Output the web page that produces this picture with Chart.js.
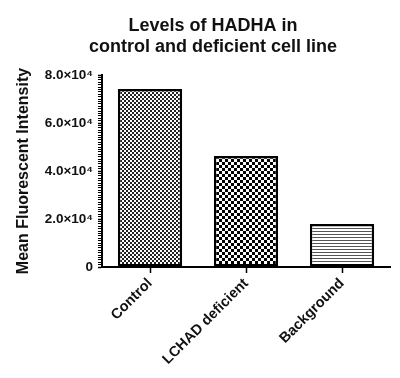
<!DOCTYPE html>
<html>
<head>
<meta charset="utf-8">
<script src="https://cdn.jsdelivr.net/npm/chart.js@4.4.1/dist/chart.umd.min.js"></script>
<style>
  html, body { margin: 0; padding: 0; background: #ffffff; }
  #wrap { position: relative; width: 400px; height: 378px; }
</style>
</head>
<body>
<div id="wrap"><canvas id="hadha_chart" width="400" height="378"></canvas></div>
<script>
var title_lines = ['Levels of HADHA in', 'control and deficient cell line'];
var categories = ['Control', 'LCHAD deficient', 'Background'];
var values = [74200, 46200, 17900];
var y_title = 'Mean Fluorescent Intensity';
var y_major_ticks = [0, 20000, 40000, 60000, 80000];
var y_max = 80000;
var y_minor_step = 1000;

var FONT = "'Liberation Sans', Arial, Helvetica, sans-serif";

// fill patterns for the bars
function checker(cell, dark){
    var c = document.createElement('canvas');
    c.width = cell*2; c.height = cell*2;
    var g = c.getContext('2d');
    g.fillStyle = '#ffffff';
    g.fillRect(0, 0, c.width, c.height);
    g.fillStyle = dark;
    g.fillRect(0, 0, cell, cell);
    g.fillRect(cell, cell, cell, cell);
    return g.createPattern(c, 'repeat');
}
function hlines(period, dark){
    var c = document.createElement('canvas');
    c.width = 4; c.height = period;
    var g = c.getContext('2d');
    g.fillStyle = '#ffffff';
    g.fillRect(0, 0, c.width, c.height);
    g.fillStyle = dark;
    g.fillRect(0, 0, c.width, 1);
    return g.createPattern(c, 'repeat');
}

var fills = [checker(2, '#222222'), checker(3, '#000000'), hlines(3, '#555555')];

// title drawn over the plot, centred like the original figure
var titlePlugin = {
    id: 'figTitle',
    afterDraw: function(chart){
        var ctx = chart.ctx;
        ctx.save();
        ctx.fillStyle = '#111111';
        ctx.font = 'bold 18px ' + FONT;
        ctx.textAlign = 'center';
        ctx.textBaseline = 'middle';
        for (var i = 0; i < title_lines.length; i++){
            ctx.fillText(title_lines[i], 213, 26 + i*21);
        }
        ctx.restore();
    }
};

function yLabel(v){
    if (y_major_ticks.indexOf(v) < 0) return '';
    if (v === 0) return '0';
    return (v/10000).toFixed(1) + '\u00d710\u2074';
}

var chart = new Chart(document.getElementById('hadha_chart').getContext('2d'), {
    type: 'bar',
    data: {
        labels: categories,
        datasets: [{
            data: values,
            backgroundColor: fills,
            borderColor: '#000000',
            borderWidth: 2.5,
            borderSkipped: false,
            barPercentage: 0.67,
            categoryPercentage: 1.0
        }]
    },
    options: {
        responsive: false,
        animation: false,
        layout: { padding: { top: 75, right: 10, left: 0, bottom: 0 } },
        plugins: {
            legend: { display: false },
            tooltip: { enabled: false }
        },
        scales: {
            x: {
                offset: true,
                grid: {
                    offset: false,
                    drawOnChartArea: false,
                    tickLength: 6,
                    tickColor: '#000000',
                    tickWidth: 1.5
                },
                border: { color: '#000000', width: 2 },
                ticks: {
                    color: '#111111',
                    minRotation: 45,
                    maxRotation: 45,
                    padding: 2,
                    font: { family: FONT, size: 14.5, weight: 'bold' }
                },
                afterFit: function(scale){ scale.height = 111; }
            },
            y: {
                min: 0,
                max: y_max,
                grid: {
                    drawOnChartArea: false,
                    tickLength: 4,
                    tickColor: '#000000',
                    tickWidth: function(ctx){
                        return y_major_ticks.indexOf(ctx.tick.value) >= 0 ? 1.5 : 1;
                    }
                },
                border: { color: '#000000', width: 2 },
                ticks: {
                    stepSize: y_minor_step,
                    autoSkip: false,
                    padding: 5,
                    color: '#111111',
                    font: { family: FONT, size: 13.5, weight: 'bold' },
                    callback: function(v){ return yLabel(v); }
                },
                title: {
                    display: true,
                    text: y_title,
                    color: '#111111',
                    padding: { top: 14, bottom: 0 },
                    font: { family: FONT, size: 16, weight: 'bold' }
                },
                afterFit: function(scale){ scale.width = 102; }
            }
        }
    },
    plugins: [titlePlugin]
});
</script>
</body>
</html>
